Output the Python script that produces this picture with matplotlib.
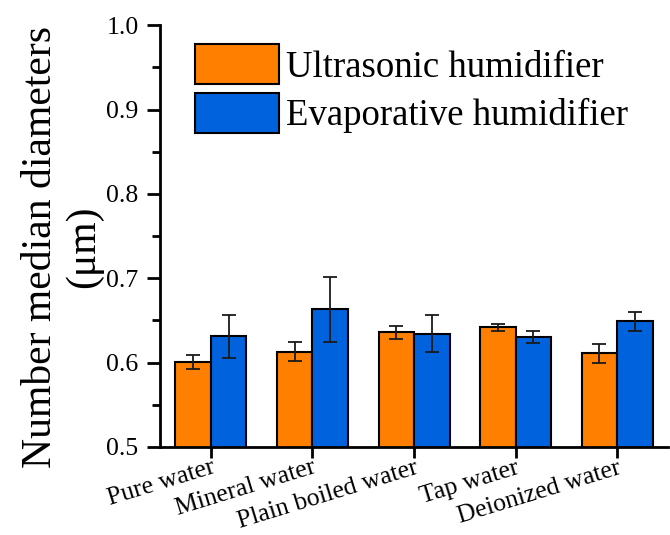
import matplotlib.pyplot as plt
import numpy as np

# datos
categorias = ['Pure water', 'Mineral water', 'Plain boiled water', 'Tap water', 'Deionized water']
ultra = [0.601, 0.613, 0.636, 0.642, 0.611]
ultra_err = [0.008, 0.011, 0.008, 0.004, 0.011]
evap = [0.631, 0.663, 0.634, 0.630, 0.649]
evap_err = [0.025, 0.038, 0.022, 0.007, 0.011]

plt.rcParams['font.family'] = ['Liberation Serif', 'DejaVu Serif']

fig = plt.figure(figsize=(6.7, 5.35), dpi=100)
ax = fig.add_axes([0.239, 0.1645, 0.758, 0.7885])

x = np.arange(len(categorias))
w = 0.35
err_kw = dict(ecolor='#1a1a1a', elinewidth=1.3, capsize=5, capthick=1.3)
ax.bar(x - w/2, ultra, w, yerr=ultra_err, color='#FF7F00', edgecolor='black',
       linewidth=1.5, label='Ultrasonic humidifier', error_kw=err_kw)
ax.bar(x + w/2, evap, w, yerr=evap_err, color='#0062DD', edgecolor='black',
       linewidth=1.5, label='Evaporative humidifier', error_kw=err_kw)

ax.set_xlim(-0.5, 4.5)
ax.set_ylim(0.5, 1.0)
ax.set_yticks(np.arange(0.5, 1.01, 0.1))
ax.set_yticks(np.arange(0.55, 1.0, 0.1), minor=True)
ax.set_xticks(x)
ax.set_xticklabels(categorias, rotation=17, ha='right', rotation_mode='anchor', fontsize=18.5)
ax.tick_params(axis='y', which='major', labelsize=18.5, length=9.5, width=2, direction='out', pad=6)
ax.tick_params(axis='y', which='minor', length=6, width=2, direction='out')
ax.tick_params(axis='x', length=8, width=2, direction='out', pad=-1)
ax.yaxis.set_major_formatter(plt.FormatStrFormatter('%.1f'))

for s in ['top', 'right']:
    ax.spines[s].set_visible(False)
for s in ['left', 'bottom']:
    ax.spines[s].set_linewidth(2)

ax.set_ylabel('Number median diameters\n(\u03bcm)', fontsize=30, linespacing=1.15)
ax.yaxis.set_label_coords(-0.112, 0.474)

ax.legend(loc='upper left', bbox_to_anchor=(0.069, 0.955), frameon=False, fontsize=26.5,
          handlelength=2.27, handleheight=1.3, handletextpad=0.2, labelspacing=0.22,
          borderaxespad=0.0, borderpad=0.0)

fig.savefig('out.png', dpi=100)
